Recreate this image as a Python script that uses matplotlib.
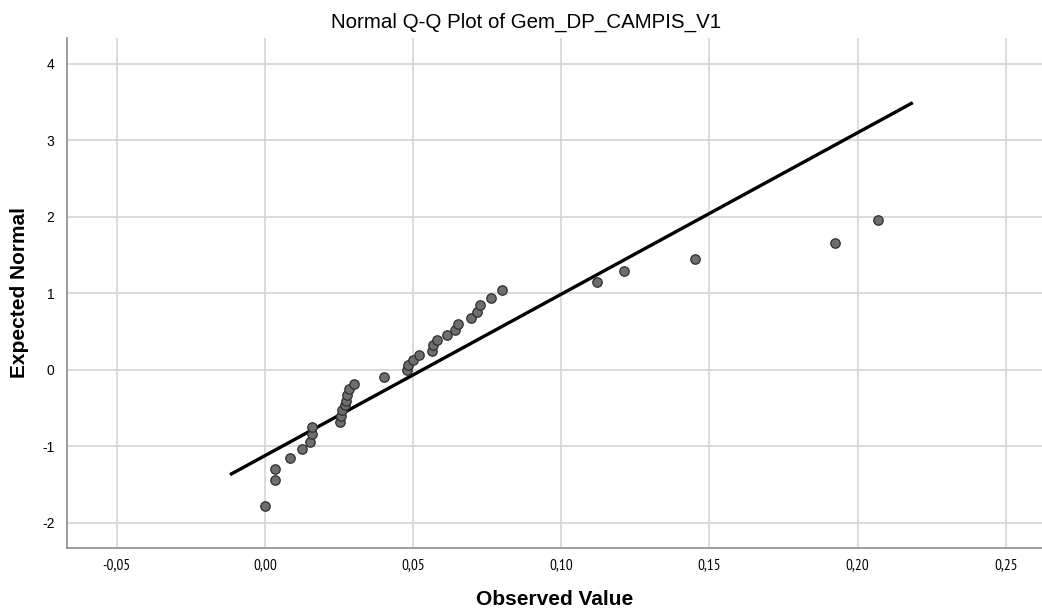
import matplotlib
matplotlib.use("Agg")
import matplotlib.pyplot as plt
from matplotlib.ticker import FuncFormatter

observed = [0.0000, 0.0035, 0.0035, 0.0084, 0.0124, 0.0153, 0.0160, 0.0159,
            0.0253, 0.0256, 0.0259, 0.0270, 0.0274, 0.0278, 0.0285, 0.0301,
            0.0400, 0.0480, 0.0481, 0.0498, 0.0520, 0.0562, 0.0568, 0.0581,
            0.0614, 0.0642, 0.0653, 0.0696, 0.0716, 0.0725, 0.0763, 0.0800,
            0.1119, 0.1211, 0.1451, 0.1924, 0.2070]
expected = [-1.78, -1.44, -1.29, -1.15, -1.04, -0.94, -0.84, -0.75,
            -0.68, -0.60, -0.52, -0.46, -0.40, -0.33, -0.25, -0.19,
            -0.09, 0.00, 0.07, 0.13, 0.19, 0.25, 0.32, 0.39,
            0.46, 0.52, 0.60, 0.68, 0.76, 0.85, 0.945, 1.04,
            1.15, 1.29, 1.45, 1.66, 1.96]

# Reference line: expected = (x - mean) / sd
line_mean = 0.0531
line_sd = 0.0474
line_x = [-0.0118, 0.2186]

xticks = [-0.05, 0.00, 0.05, 0.10, 0.15, 0.20, 0.25]
yticks = [-2, -1, 0, 1, 2, 3, 4]

plt.rcParams['font.family'] = ['Liberation Sans', 'DejaVu Sans']

fig = plt.figure(figsize=(10.42, 6.11), dpi=100)
ax = fig.add_axes([67/1042, 63/611, 1 - 67/1042, (548-38)/611])

ax.set_xlim(-0.0668, 0.2622)
ax.set_ylim(-2.327, 4.336)
ax.set_xticks(xticks)
ax.set_yticks(yticks)
ax.xaxis.set_major_formatter(FuncFormatter(lambda v, p: f"{v:.2f}".replace('.', ',')))
ax.yaxis.set_major_formatter(FuncFormatter(lambda v, p: f"{int(round(v))}"))
ax.grid(True, color='#d4d4d4', linewidth=1.2)
ax.set_axisbelow(True)
for s in ['top', 'right']:
    ax.spines[s].set_visible(False)
for s in ['left', 'bottom']:
    ax.spines[s].set_color('#8c8c8c')
    ax.spines[s].set_linewidth(1.2)
ax.tick_params(length=0, colors='black')
ax.tick_params(axis='x', pad=7.5, labelsize=11)
ax.tick_params(axis='y', pad=9, labelsize=10)
for lab in ax.get_xticklabels():
    lab.set_family(['PT Sans Narrow', 'Liberation Sans', 'DejaVu Sans'])

ly = [(x - line_mean) / line_sd for x in line_x]
ax.plot(line_x, ly, color='black', linewidth=2.4, zorder=3, solid_capstyle='butt')
ax.scatter(observed, expected, s=46, facecolor='#6e6e6e', edgecolor='#2e2e2e',
           linewidth=0.9, zorder=4)

ax.set_xlabel('Observed Value', fontsize=15, fontweight='bold', labelpad=13)
ax.set_ylabel('Expected Normal', fontsize=15, fontweight='bold')
ax.yaxis.set_label_coords(-38/975, 0.5)
fig.text(526/1042, 1 - 28/611, 'Normal Q-Q Plot of Gem_DP_CAMPIS_V1',
         ha='center', va='baseline', fontsize=14.8)

fig.savefig('out.png', dpi=100)
